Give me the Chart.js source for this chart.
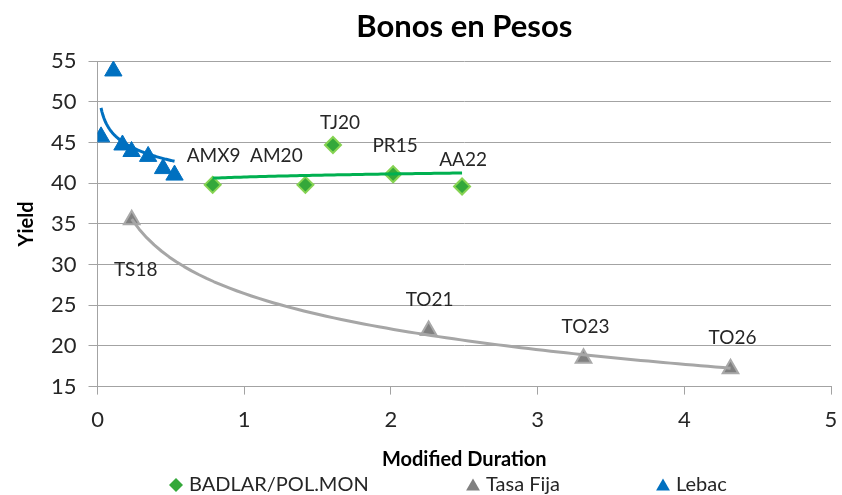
<!DOCTYPE html>
<html>
<head>
<meta charset="utf-8">
<title>Bonos en Pesos</title>
<script src="https://cdn.jsdelivr.net/npm/chart.js@4.4.1/dist/chart.umd.min.js"></script>
<style>
  html, body { margin: 0; padding: 0; background: #fff; }
  #wrap { width: 842px; height: 495px; }
</style>
</head>
<body>
<div id="wrap"><canvas id="chartBonos"></canvas></div>
<script>
// BADLAR / Pol. Monetaria
const badlarNames = ["AMX9", "AM20", "TJ20", "PR15", "AA22"];
const badlarDur = [0.785, 1.417, 1.605, 2.015, 2.485];
const badlarYield = [39.8, 39.8, 44.7, 41.1, 39.6];

// Tasa fija
const fijaNames = ["TS18", "TO21", "TO23", "TO26"];
const fijaDur = [0.233, 2.257, 3.313, 4.315];
const fijaYield = [35.5, 21.9, 18.5, 17.2];

// Lebac (sin etiquetas)
const lebacDur = [0.024, 0.108, 0.17, 0.232, 0.345, 0.447, 0.525];
const lebacYield = [45.7, 53.8, 44.7, 43.9, 43.3, 41.8, 41.0];

const xTicks = [0, 1, 2, 3, 4, 5];
const yTicks = [15, 20, 25, 30, 35, 40, 45, 50, 55];

const seriesNames = ["BADLAR/POL.MON", "Tasa Fija", "Lebac"];

const FONT = "Lato";
const GRID = "#a3a3a3";

function toPoints(xs, ys) {
  return xs.map((x, i) => ({ x: x, y: ys[i] }));
}

// desplazamiento de cada etiqueta respecto del punto (px)
const badlarShift = [[1, -29], [-29, -29], [7, -22], [2, -28], [1, -27]];
const fijaShift = [[4, 50], [1, -31], [2, -31], [2, -31]];

// tendencia logaritmica (como en Excel), dibujada sobre los puntos
const logTrend = {
  id: "logTrend",
  afterDatasetsDraw(chart) {
    const ctx = chart.ctx;
    const xs = chart.scales.x, ys = chart.scales.y;
    chart.data.datasets.forEach((ds) => {
      if (!ds.trendColor) return;
      const n = ds.data.length;
      const lx = ds.data.map((p) => Math.log(p.x));
      const mx = lx.reduce((a, b) => a + b, 0) / n;
      const my = ds.data.reduce((a, p) => a + p.y, 0) / n;
      let sxy = 0, sxx = 0;
      ds.data.forEach((p, i) => {
        sxy += (lx[i] - mx) * (p.y - my);
        sxx += (lx[i] - mx) * (lx[i] - mx);
      });
      const b = sxy / sxx;
      const a = my - b * mx;
      const lo = Math.min(...ds.data.map((p) => p.x));
      const hi = Math.max(...ds.data.map((p) => p.x));
      ctx.save();
      ctx.beginPath();
      for (let i = 0; i <= 80; i++) {
        const v = lo + (hi - lo) * i / 80;
        const px = xs.getPixelForValue(v);
        const py = ys.getPixelForValue(a + b * Math.log(v));
        if (i === 0) ctx.moveTo(px, py); else ctx.lineTo(px, py);
      }
      ctx.strokeStyle = ds.trendColor;
      ctx.lineWidth = 3;
      ctx.lineJoin = "round";
      ctx.stroke();
      ctx.restore();
    });
  }
};

const pointNames = {
  id: "pointNames",
  afterDatasetsDraw(chart) {
    const ctx = chart.ctx;
    ctx.save();
    ctx.font = "19px " + FONT;
    ctx.fillStyle = "#262626";
    ctx.textAlign = "center";
    ctx.textBaseline = "middle";
    chart.data.datasets.forEach((ds, i) => {
      if (!ds.names) return;
      const meta = chart.getDatasetMeta(i);
      meta.data.forEach((el, j) => {
        const s = ds.shift[j];
        ctx.fillText(ds.names[j], el.x + s[0], el.y + s[1]);
      });
    });
    ctx.restore();
  }
};

// leyenda inferior como en Excel
const legendSlots = [176, 473, 663];
const bottomLegend = {
  id: "bottomLegend",
  afterDraw(chart) {
    const ctx = chart.ctx;
    const y = 485;
    ctx.save();
    chart.data.datasets.forEach((ds, i) => {
      const cx = legendSlots[i];
      ctx.fillStyle = ds.backgroundColor;
      ctx.strokeStyle = ds.backgroundColor;
      Chart.helpers.drawPoint(ctx, {
        pointStyle: ds.pointStyle,
        radius: ds.pointStyle === "triangle" ? 8 : 7,
        rotation: 0,
        borderWidth: 0
      }, cx, ds.pointStyle === "triangle" ? y + 1.5 : y);
      ctx.fillStyle = "#262626";
      ctx.font = "20px " + FONT;
      ctx.textAlign = "left";
      ctx.textBaseline = "middle";
      ctx.fillText(ds.label, cx + 13, y);
    });
    ctx.restore();
  }
};

new Chart(document.getElementById("chartBonos"), {
  type: "scatter",
  data: {
    datasets: [
      {
        label: seriesNames[0],
        data: toPoints(badlarDur, badlarYield),
        names: badlarNames,
        shift: badlarShift,
        pointStyle: "rectRot",
        pointRadius: 8,
        borderWidth: 2,
        backgroundColor: "#34a83a",
        borderColor: "#86d352",
        trendColor: "#00b050"
      },
      {
        label: seriesNames[1],
        data: toPoints(fijaDur, fijaYield),
        names: fijaNames,
        shift: fijaShift,
        pointStyle: "triangle",
        pointRadius: 9,
        borderWidth: 2,
        backgroundColor: "#808080",
        borderColor: "#a9a9a9",
        trendColor: "#a6a6a6"
      },
      {
        label: seriesNames[2],
        data: toPoints(lebacDur, lebacYield),
        pointStyle: "triangle",
        pointRadius: 10,
        borderWidth: 1,
        backgroundColor: "#0070c0",
        borderColor: "#0070c0",
        trendColor: "#0070c0"
      }
    ]
  },
  options: {
    responsive: true,
    maintainAspectRatio: false,
    animation: false,
    layout: { padding: { left: 5, right: 0, bottom: 23, top: 0 } },
    plugins: {
      legend: { display: false },
      tooltip: { enabled: false },
      title: {
        display: true,
        text: "Bonos en Pesos",
        fullSize: false,
        color: "#000",
        font: { family: FONT, size: 31, weight: "bold" },
        padding: { top: 8, bottom: 16 }
      }
    },
    scales: {
      x: {
        type: "linear",
        min: xTicks[0],
        max: xTicks[xTicks.length - 1],
        afterFit(scale) {
          // el padding de ticks no debe empujar el borde derecho
          scale.paddingRight = 0;
        },
        ticks: {
          stepSize: xTicks[1] - xTicks[0],
          color: "#262626",
          padding: 12,
          font: { family: FONT, size: 22 }
        },
        grid: { drawOnChartArea: false, drawTicks: true, tickLength: 8, color: GRID },
        border: { color: GRID },
        title: {
          display: true,
          text: "Modified Duration",
          color: "#000",
          font: { family: FONT, size: 20, weight: "bold" },
          padding: { top: 3, bottom: 0 }
        }
      },
      y: {
        min: yTicks[0],
        max: yTicks[yTicks.length - 1],
        afterFit(scale) {
          scale.paddingRight = 0;
        },
        ticks: {
          stepSize: yTicks[1] - yTicks[0],
          color: "#262626",
          padding: 12,
          font: { family: FONT, size: 22 }
        },
        grid: { color: GRID, tickLength: 9 },
        border: { color: GRID },
        title: {
          display: true,
          text: "Yield",
          color: "#000",
          font: { family: FONT, size: 20, weight: "bold" },
          padding: { top: 10, bottom: 0 }
        }
      }
    }
  },
  plugins: [logTrend, pointNames, bottomLegend]
});
</script>
</body>
</html>
